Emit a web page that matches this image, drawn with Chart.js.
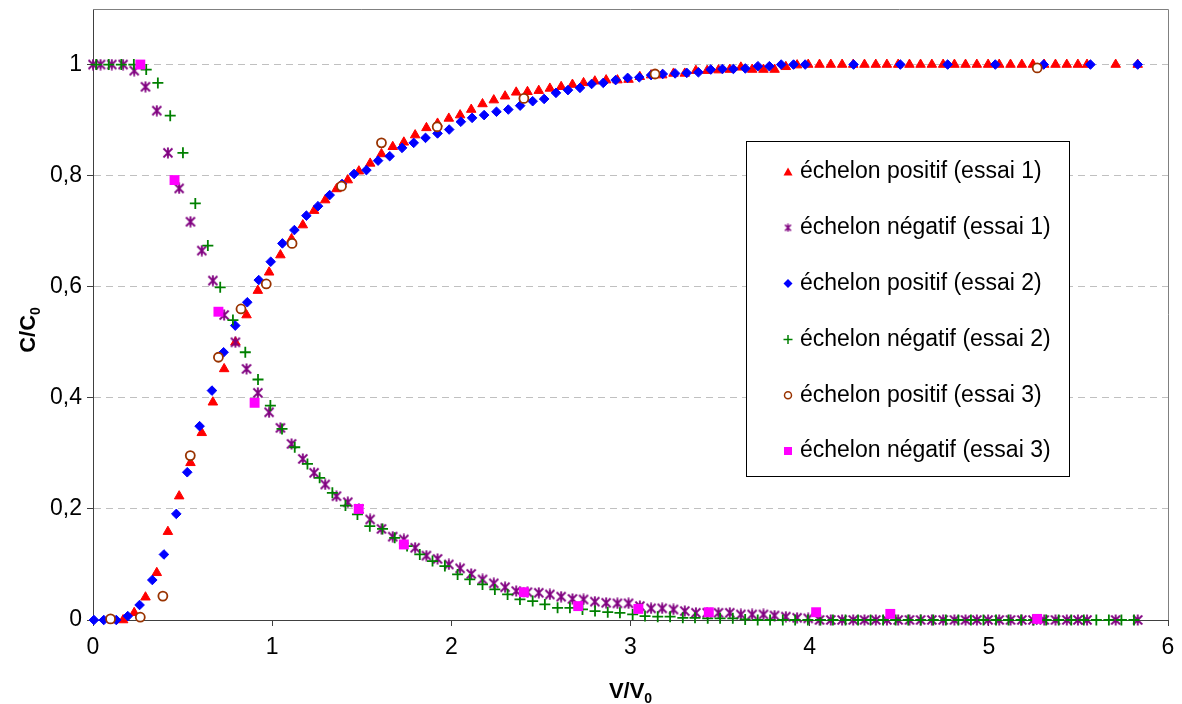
<!DOCTYPE html>
<html>
<head>
<meta charset="utf-8">
<title>C/C0 en fonction de V/V0</title>
<script src="https://cdn.jsdelivr.net/npm/chart.js@4.4.1/dist/chart.umd.min.js"></script>
<style>
  html, body { margin: 0; padding: 0; background: #fff; }
  canvas { display: block; }
</style>
</head>
<body>
<canvas id="chart" width="1182" height="704"></canvas>
<script>
// échelon positif (essai 1)
const pos1X = [0.105,0.168,0.230,0.293,0.356,0.418,0.481,0.544,0.607,0.669,0.732,0.795,0.857,0.920,0.983,1.046,1.108,1.171,1.234,1.296,
  1.359,1.422,1.484,1.547,1.610,1.673,1.735,1.798,1.861,1.923,1.986,2.049,2.111,2.174,2.237,2.300,2.362,2.425,2.488,2.550,
  2.613,2.676,2.738,2.801,2.864,2.927,2.989,3.052,3.115,3.177,3.240,3.303,3.365,3.428,3.491,3.554,3.616,3.679,3.742,3.804,
  3.867,3.930,3.992,4.055,4.118,4.181,4.243,4.306,4.369,4.431,4.494,4.557,4.619,4.682,4.745,4.808,4.870,4.933,4.996,5.058,
  5.121,5.184,5.246,5.309,5.372,5.435,5.497,5.548,5.708,5.831];
const pos1Y = [0,0,0.013,0.041,0.085,0.159,0.223,0.283,0.337,0.392,0.452,0.500,0.549,0.593,0.626,0.657,0.686,0.711,0.737,0.756,
  0.776,0.792,0.808,0.822,0.839,0.852,0.860,0.873,0.886,0.894,0.903,0.909,0.919,0.929,0.936,0.943,0.950,0.951,0.953,0.957,
  0.960,0.964,0.967,0.970,0.972,0.972,0.973,0.978,0.981,0.981,0.984,0.984,0.989,0.989,0.990,0.991,0.995,0.991,0.991,0.991,
  0.996,0.999,1,1,1,1,1,1,1,1,1,1,1,1,1,1,1,1,1,1,
  1,1,1,1,1,1,1,1,1,1];

// échelon négatif (essai 1)
const neg1X = [0,0.042,0.105,0.168,0.230,0.293,0.356,0.418,0.481,0.544,0.607,0.669,0.732,0.795,0.857,0.920,0.983,1.046,1.108,1.171,
  1.234,1.296,1.359,1.422,1.484,1.547,1.610,1.673,1.735,1.798,1.861,1.923,1.986,2.049,2.111,2.174,2.237,2.300,2.362,2.425,
  2.488,2.550,2.613,2.676,2.738,2.801,2.864,2.927,2.989,3.052,3.115,3.177,3.240,3.303,3.365,3.428,3.491,3.554,3.616,3.679,
  3.742,3.804,3.867,3.930,3.992,4.055,4.118,4.181,4.243,4.306,4.369,4.431,4.494,4.557,4.619,4.682,4.745,4.808,4.870,4.933,
  4.996,5.058,5.121,5.184,5.246,5.309,5.372,5.435,5.497,5.548,5.708,5.831];
const neg1Y = [1,1,1,1,0.989,0.960,0.917,0.841,0.777,0.717,0.665,0.611,0.549,0.500,0.452,0.409,0.374,0.346,0.317,0.290,
  0.265,0.244,0.223,0.212,0.200,0.181,0.164,0.150,0.145,0.130,0.116,0.110,0.100,0.093,0.083,0.073,0.066,0.059,0.052,0.050,
  0.049,0.046,0.042,0.038,0.037,0.033,0.031,0.030,0.030,0.025,0.021,0.021,0.019,0.016,0.013,0.013,0.013,0.013,0.010,0.010,
  0.010,0.008,0.006,0.004,0.003,0,0,0,0,0,0,0,0,0,0,0,0,0,0,0,
  0,0,0,0,0,0,0,0,0,0,0,0];

// échelon positif (essai 2)
const pos2X = [0.005,0.060,0.130,0.194,0.260,0.331,0.396,0.465,0.526,0.595,0.664,0.729,0.794,0.861,0.925,0.992,1.057,1.124,1.191,1.256,
  1.321,1.390,1.457,1.526,1.591,1.656,1.725,1.790,1.856,1.923,1.988,2.053,2.116,2.183,2.252,2.318,2.384,2.454,2.518,2.584,
  2.651,2.718,2.783,2.848,2.917,2.984,3.049,3.115,3.180,3.249,3.314,3.379,3.448,3.513,3.574,3.641,3.711,3.775,3.841,3.910,
  3.975,4.245,4.506,4.770,5.036,5.306,5.567,5.831];
const pos2Y = [0,0,0,0.007,0.027,0.072,0.118,0.191,0.266,0.349,0.413,0.482,0.530,0.572,0.612,0.645,0.678,0.702,0.728,0.745,
  0.765,0.785,0.803,0.810,0.827,0.835,0.850,0.859,0.868,0.876,0.883,0.897,0.904,0.909,0.915,0.919,0.926,0.934,0.938,0.949,
  0.954,0.958,0.965,0.967,0.972,0.976,0.977,0.981,0.983,0.984,0.985,0.986,0.991,0.992,0.992,0.993,0.997,0.997,1,1,
  1,1,1,1,1,1,1,1];

// échelon négatif (essai 2)
const neg2X = [0.018,0.088,0.158,0.228,0.297,0.362,0.431,0.502,0.571,0.641,0.710,0.781,0.850,0.921,0.990,1.055,1.126,1.197,1.265,1.336,
  1.409,1.476,1.545,1.616,1.684,1.753,1.824,1.895,1.964,2.035,2.103,2.174,2.243,2.314,2.383,2.454,2.522,2.593,2.662,2.732,
  2.802,2.873,2.941,3.012,3.081,3.152,3.221,3.292,3.360,3.431,3.500,3.571,3.640,3.710,3.779,3.850,3.919,3.990,4.060,4.130,
  4.200,4.270,4.340,4.410,4.480,4.550,4.620,4.690,4.760,4.830,4.900,4.970,5.040,5.110,5.180,5.250,5.320,5.390,5.460,5.530,
  5.600,5.670,5.740,5.810];
const neg2Y = [1,1,1,1,0.991,0.967,0.908,0.841,0.750,0.674,0.599,0.540,0.482,0.433,0.386,0.344,0.311,0.281,0.256,0.229,
  0.206,0.190,0.169,0.164,0.148,0.133,0.118,0.106,0.097,0.082,0.073,0.064,0.055,0.046,0.037,0.034,0.028,0.022,0.022,0.019,
  0.016,0.014,0.013,0.010,0.007,0.006,0.006,0.004,0.004,0.003,0.003,0.003,0.001,0,0,0,0,0,0,0,
  0,0,0,0,0,0,0,0,0,0,0,0,0,0,0,0,0,0,0,0,
  0,0,0,0];

// échelon positif (essai 3)
const pos3X = [0.098,0.264,0.390,0.543,0.700,0.826,0.967,1.111,1.387,1.610,1.921,2.405,3.137,5.270];
const pos3Y = [0.002,0.005,0.043,0.296,0.473,0.560,0.605,0.678,0.781,0.859,0.888,0.939,0.983,0.994];

// échelon négatif (essai 3)
const neg3X = [0.264,0.455,0.700,0.902,1.483,1.735,2.405,2.708,3.044,3.437,4.036,4.450,5.270];
const neg3Y = [1.000,0.792,0.555,0.391,0.200,0.136,0.050,0.025,0.020,0.014,0.014,0.011,0.002];

const seriesLabels = [
  'échelon positif (essai 1)',
  'échelon négatif (essai 1)',
  'échelon positif (essai 2)',
  'échelon négatif (essai 2)',
  'échelon positif (essai 3)',
  'échelon négatif (essai 3)'
];

const FONT = '"Liberation Sans", Arial, Helvetica, sans-serif';

function toPoints(xs, ys) {
  return xs.map((x, i) => ({ x: x, y: ys[i] }));
}

// Excel-like asterisk marker (X with a vertical bar)
function makeAsterisk(size, color, lw) {
  const c = document.createElement('canvas');
  c.width = size;
  c.height = size;
  const g = c.getContext('2d');
  g.strokeStyle = color;
  g.lineWidth = lw;
  const m = 1.5;
  g.beginPath();
  g.moveTo(m, m); g.lineTo(size - m, size - m);
  g.moveTo(size - m, m); g.lineTo(m, size - m);
  g.moveTo(size / 2, 0.5); g.lineTo(size / 2, size - 0.5);
  g.stroke();
  return c;
}

const asterisk = makeAsterisk(12, '#800080', 1.8);
const asteriskSmall = makeAsterisk(9, '#800080', 1.5);

// marker drawing for the legend
function drawLegendMarker(ctx, i, x, y) {
  ctx.save();
  ctx.beginPath();
  if (i === 0) {
    ctx.fillStyle = '#ff0000';
    ctx.moveTo(x, y - 4.5); ctx.lineTo(x + 4.5, y + 3.5); ctx.lineTo(x - 4.5, y + 3.5);
    ctx.closePath(); ctx.fill();
  } else if (i === 1) {
    ctx.drawImage(asteriskSmall, x - 4.5, y - 4.5);
  } else if (i === 2) {
    ctx.fillStyle = '#0000ff';
    ctx.moveTo(x, y - 4.5); ctx.lineTo(x + 4.5, y); ctx.lineTo(x, y + 4.5); ctx.lineTo(x - 4.5, y);
    ctx.closePath(); ctx.fill();
  } else if (i === 3) {
    ctx.strokeStyle = '#008000'; ctx.lineWidth = 1.5;
    ctx.moveTo(x - 4.5, y); ctx.lineTo(x + 4.5, y);
    ctx.moveTo(x, y - 4.5); ctx.lineTo(x, y + 4.5);
    ctx.stroke();
  } else if (i === 4) {
    ctx.fillStyle = '#ffffff'; ctx.strokeStyle = '#993300'; ctx.lineWidth = 1.5;
    ctx.arc(x, y, 3.5, 0, Math.PI * 2); ctx.fill(); ctx.stroke();
  } else {
    ctx.fillStyle = '#ff00ff';
    ctx.fillRect(x - 4, y - 4, 8, 8);
  }
  ctx.restore();
}

const legendPlugin = {
  id: 'boxLegend',
  afterDraw(chart) {
    const ctx = chart.ctx;
    const box = { x: 746.5, y: 141.5, w: 323, h: 335 };
    ctx.save();
    ctx.fillStyle = '#ffffff';
    ctx.fillRect(box.x, box.y, box.w, box.h);
    ctx.strokeStyle = '#000000';
    ctx.lineWidth = 1;
    ctx.strokeRect(box.x, box.y, box.w, box.h);
    ctx.font = '23px ' + FONT;
    ctx.fillStyle = '#000000';
    ctx.textBaseline = 'middle';
    ctx.textAlign = 'left';
    seriesLabels.forEach((label, i) => {
      const y = 172 + i * 55.8;
      drawLegendMarker(ctx, i, 788, y);
      ctx.fillText(label, 800, y);
    });
    ctx.restore();
  }
};

// axis titles with subscript 0
const titlePlugin = {
  id: 'axisTitles',
  afterDraw(chart) {
    const ctx = chart.ctx;
    const area = chart.chartArea;
    ctx.save();
    ctx.fillStyle = '#000000';
    ctx.textBaseline = 'alphabetic';
    ctx.textAlign = 'left';

    // x title
    const big = 'bold 22px ' + FONT;
    const small = 'bold 14px ' + FONT;
    ctx.font = big;
    const wx = ctx.measureText('V/V').width;
    ctx.font = small;
    const wx0 = ctx.measureText('0').width;
    const cx = (area.left + area.right) / 2;
    let sx = cx - (wx + wx0) / 2;
    ctx.font = big;
    ctx.fillText('V/V', sx, 698);
    ctx.font = small;
    ctx.fillText('0', sx + wx, 703);

    // y title (rotated)
    ctx.translate(35, 330);
    ctx.rotate(-Math.PI / 2);
    ctx.font = big;
    const wy = ctx.measureText('C/C').width;
    ctx.font = small;
    const wy0 = ctx.measureText('0').width;
    sx = -(wy + wy0) / 2;
    ctx.font = big;
    ctx.fillText('C/C', sx, 0);
    ctx.font = small;
    ctx.fillText('0', sx + wy, 5);
    ctx.restore();
  }
};

// top and right border of the plot area
const framePlugin = {
  id: 'plotFrame',
  beforeDatasetsDraw(chart) {
    const ctx = chart.ctx;
    const a = chart.chartArea;
    ctx.save();
    ctx.strokeStyle = '#808080';
    ctx.lineWidth = 1;
    ctx.beginPath();
    ctx.moveTo(a.left, Math.round(a.top) + 0.5);
    ctx.lineTo(Math.round(a.right) + 0.5, Math.round(a.top) + 0.5);
    ctx.lineTo(Math.round(a.right) + 0.5, a.bottom);
    ctx.stroke();
    ctx.restore();
  }
};

const ctx = document.getElementById('chart');

new Chart(ctx, {
  type: 'scatter',
  data: {
    datasets: [
      {
        label: seriesLabels[0],
        data: toPoints(pos1X, pos1Y),
        pointStyle: 'triangle',
        pointRadius: 5.5,
        backgroundColor: '#ff0000',
        borderColor: '#ff0000',
        borderWidth: 1,
        order: 6
      },
      {
        label: seriesLabels[1],
        data: toPoints(neg1X, neg1Y),
        pointStyle: asterisk,
        pointRadius: 6,
        order: 5
      },
      {
        label: seriesLabels[2],
        data: toPoints(pos2X, pos2Y),
        pointStyle: 'rectRot',
        pointRadius: 4.8,
        backgroundColor: '#0000ff',
        borderColor: '#0000ff',
        borderWidth: 1,
        order: 4
      },
      {
        label: seriesLabels[3],
        data: toPoints(neg2X, neg2Y),
        pointStyle: 'cross',
        pointRadius: 5.5,
        borderColor: '#008000',
        borderWidth: 1.8,
        order: 3
      },
      {
        label: seriesLabels[4],
        data: toPoints(pos3X, pos3Y),
        pointStyle: 'circle',
        pointRadius: 4.5,
        backgroundColor: '#ffffff',
        borderColor: '#993300',
        borderWidth: 1.8,
        order: 2
      },
      {
        label: seriesLabels[5],
        data: toPoints(neg3X, neg3Y),
        pointStyle: 'rect',
        pointRadius: 7,
        backgroundColor: '#ff00ff',
        borderColor: '#ff00ff',
        borderWidth: 0,
        order: 1
      }
    ]
  },
  options: {
    responsive: false,
    animation: false,
    events: [],
    clip: false,
    layout: {
      padding: { left: 0, top: 9, right: 14, bottom: 0 }
    },
    plugins: {
      legend: { display: false },
      tooltip: { enabled: false },
      title: { display: false }
    },
    scales: {
      x: {
        type: 'linear',
        min: 0,
        max: 6,
        afterFit: (scale) => {
          scale.height = 84;
          scale.paddingLeft = 0;
          scale.paddingRight = 0;
        },
        ticks: {
          stepSize: 1,
          padding: 8,
          color: '#000000',
          font: { family: FONT, size: 23 },
          callback: (v) => String(v)
        },
        grid: {
          drawOnChartArea: false,
          drawTicks: true,
          tickLength: 6,
          tickColor: '#404040',
          tickWidth: 1
        },
        border: { display: true, color: '#404040', width: 1 }
      },
      y: {
        type: 'linear',
        min: 0,
        max: 1.1,
        afterFit: (scale) => {
          scale.width = 93;
          scale.paddingTop = 0;
          scale.paddingBottom = 0;
        },
        afterBuildTicks: (scale) => {
          scale.ticks = scale.ticks.filter(t => t.value <= 1.0001);
        },
        ticks: {
          stepSize: 0.2,
          padding: 5,
          color: '#000000',
          font: { family: FONT, size: 23 },
          callback: (v) => {
            if (v === 0) return '0';
            if (Math.abs(v - 1) < 1e-9) return '1';
            return v.toFixed(1).replace('.', ',');
          }
        },
        grid: {
          color: '#c0c0c0',
          lineWidth: 1,
          drawTicks: true,
          tickLength: 6,
          tickColor: '#404040',
          tickWidth: 1
        },
        border: { display: true, color: '#404040', width: 1, dash: [7, 5] }
      }
    }
  },
  plugins: [framePlugin, legendPlugin, titlePlugin]
});
</script>
</body>
</html>
